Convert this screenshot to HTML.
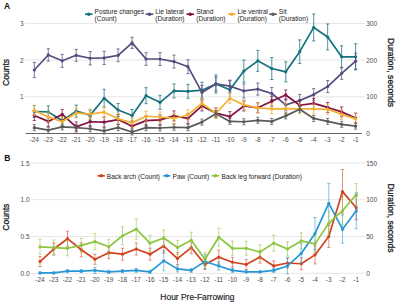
<!DOCTYPE html>
<html><head><meta charset="utf-8"><style>
html,body{margin:0;padding:0;background:#fff;}
body{width:400px;height:304px;overflow:hidden;}
svg{display:block;font-family:"Liberation Sans",sans-serif;}
</style></head><body>
<svg width="400" height="304" viewBox="0 0 400 304">
<rect width="400" height="304" fill="#fff"/>
<line x1="25" y1="96.80" x2="365" y2="96.80" stroke="#e3e3e3" stroke-width="0.9"/>
<line x1="25" y1="60.10" x2="365" y2="60.10" stroke="#e3e3e3" stroke-width="0.9"/>
<line x1="25" y1="23.40" x2="365" y2="23.40" stroke="#e3e3e3" stroke-width="0.9"/>
<line x1="25.5" y1="133.50" x2="362" y2="133.50" stroke="#555" stroke-width="0.9"/>
<line x1="31" y1="273.30" x2="365" y2="273.30" stroke="#e3e3e3" stroke-width="0.9"/>
<line x1="31" y1="236.50" x2="365" y2="236.50" stroke="#e3e3e3" stroke-width="0.9"/>
<line x1="31" y1="199.70" x2="365" y2="199.70" stroke="#e3e3e3" stroke-width="0.9"/>
<line x1="31" y1="162.90" x2="365" y2="162.90" stroke="#e3e3e3" stroke-width="0.9"/>
<path d="M34.30 105.48V117.48M32.70 105.48H35.90M32.70 117.48H35.90M48.27 105.85V117.85M46.67 105.85H49.87M46.67 117.85H49.87M62.24 115.66V125.66M60.64 115.66H63.84M60.64 125.66H63.84M76.21 105.11V117.11M74.61 105.11H77.81M74.61 117.11H77.81M90.18 110.15V120.15M88.58 110.15H91.78M88.58 120.15H91.78M104.15 89.27V107.27M102.55 89.27H105.75M102.55 107.27H105.75M118.12 103.51V116.51M116.52 103.51H119.72M116.52 116.51H119.72M132.09 109.52V121.52M130.49 109.52H133.69M130.49 121.52H133.69M146.06 87.70V103.70M144.46 87.70H147.66M144.46 103.70H147.66M160.03 95.31V109.31M158.43 95.31H161.63M158.43 109.31H161.63M174.00 83.93V97.93M172.40 83.93H175.60M172.40 97.93H175.60M187.97 84.30V98.30M186.37 84.30H189.57M186.37 98.30H189.57M201.94 82.19V98.19M200.34 82.19H203.54M200.34 98.19H203.54M215.91 74.95V92.95M214.31 74.95H217.51M214.31 92.95H217.51M229.88 80.83V98.83M228.28 80.83H231.48M228.28 98.83H231.48M243.85 60.11V82.11M242.25 60.11H245.45M242.25 82.11H245.45M257.82 50.33V71.33M256.22 50.33H259.42M256.22 71.33H259.42M271.79 57.54V79.54M270.19 57.54H273.39M270.19 79.54H273.39M285.76 61.84V81.84M284.16 61.84H287.36M284.16 81.84H287.36M299.73 39.86V63.46M298.13 39.86H301.33M298.13 63.46H301.33M313.70 13.94V40.94M312.10 13.94H315.30M312.10 40.94H315.30M327.67 23.98V49.98M326.07 23.98H329.27M326.07 49.98H329.27M341.64 45.80V67.80M340.04 45.80H343.24M340.04 67.80H343.24M355.61 43.80V69.80M354.01 43.80H357.21M354.01 69.80H357.21" stroke="#15727c" stroke-width="0.8" fill="none" opacity="0.95"/>
<path d="M34.30 111.48L48.27 111.85L62.24 120.66L76.21 111.11L90.18 115.15L104.15 98.27L118.12 110.01L132.09 115.52L146.06 95.70L160.03 102.31L174.00 90.93L187.97 91.30L201.94 90.19L215.91 83.95L229.88 89.83L243.85 71.11L257.82 60.83L271.79 68.54L285.76 71.84L299.73 51.66L313.70 27.44L327.67 36.98L341.64 56.80L355.61 56.80" stroke="#15727c" stroke-width="1.7" fill="none" stroke-linejoin="round"/>
<circle cx="34.30" cy="111.48" r="1.6" fill="#15727c"/><circle cx="48.27" cy="111.85" r="1.6" fill="#15727c"/><circle cx="62.24" cy="120.66" r="1.6" fill="#15727c"/><circle cx="76.21" cy="111.11" r="1.6" fill="#15727c"/><circle cx="90.18" cy="115.15" r="1.6" fill="#15727c"/><circle cx="104.15" cy="98.27" r="1.6" fill="#15727c"/><circle cx="118.12" cy="110.01" r="1.6" fill="#15727c"/><circle cx="132.09" cy="115.52" r="1.6" fill="#15727c"/><circle cx="146.06" cy="95.70" r="1.6" fill="#15727c"/><circle cx="160.03" cy="102.31" r="1.6" fill="#15727c"/><circle cx="174.00" cy="90.93" r="1.6" fill="#15727c"/><circle cx="187.97" cy="91.30" r="1.6" fill="#15727c"/><circle cx="201.94" cy="90.19" r="1.6" fill="#15727c"/><circle cx="215.91" cy="83.95" r="1.6" fill="#15727c"/><circle cx="229.88" cy="89.83" r="1.6" fill="#15727c"/><circle cx="243.85" cy="71.11" r="1.6" fill="#15727c"/><circle cx="257.82" cy="60.83" r="1.6" fill="#15727c"/><circle cx="271.79" cy="68.54" r="1.6" fill="#15727c"/><circle cx="285.76" cy="71.84" r="1.6" fill="#15727c"/><circle cx="299.73" cy="51.66" r="1.6" fill="#15727c"/><circle cx="313.70" cy="27.44" r="1.6" fill="#15727c"/><circle cx="327.67" cy="36.98" r="1.6" fill="#15727c"/><circle cx="341.64" cy="56.80" r="1.6" fill="#15727c"/><circle cx="355.61" cy="56.80" r="1.6" fill="#15727c"/>
<path d="M34.30 62.41V77.61M32.70 62.41H35.90M32.70 77.61H35.90M48.27 48.76V61.16M46.67 48.76H49.87M46.67 61.16H49.87M62.24 54.33V67.33M60.64 54.33H63.84M60.64 67.33H63.84M76.21 49.33V61.33M74.61 49.33H77.81M74.61 61.33H77.81M90.18 51.56V64.97M88.58 51.56H91.78M88.58 64.97H91.78M104.15 51.30V64.50M102.55 51.30H105.75M102.55 64.50H105.75M118.12 48.93V61.73M116.52 48.93H119.72M116.52 61.73H119.72M132.09 37.25V48.45M130.49 37.25H133.69M130.49 48.45H133.69M146.06 52.70V65.30M144.46 52.70H147.66M144.46 65.30H147.66M160.03 52.50V65.50M158.43 52.50H161.63M158.43 65.50H161.63M174.00 55.07V68.07M172.40 55.07H175.60M172.40 68.07H175.60M187.97 59.71V73.71M186.37 59.71H189.57M186.37 73.71H189.57M201.94 85.40V99.40M200.34 85.40H203.54M200.34 99.40H203.54M215.91 76.95V90.95M214.31 76.95H217.51M214.31 90.95H217.51M229.88 80.16V92.16M228.28 80.16H231.48M228.28 92.16H231.48M243.85 83.93V97.93M242.25 83.93H245.45M242.25 97.93H245.45M257.82 83.09V95.09M256.22 83.09H259.42M256.22 95.09H259.42M271.79 87.50V99.50M270.19 87.50H273.39M270.19 99.50H273.39M285.76 98.87V110.87M284.16 98.87H287.36M284.16 110.87H287.36M299.73 94.47V106.47M298.13 94.47H301.33M298.13 106.47H301.33M313.70 88.60V100.60M312.10 88.60H315.30M312.10 100.60H315.30M327.67 80.52V92.52M326.07 80.52H329.27M326.07 92.52H329.27M341.64 67.31V79.31M340.04 67.31H343.24M340.04 79.31H343.24M355.61 53.20V69.20M354.01 53.20H357.21M354.01 69.20H357.21" stroke="#554d7e" stroke-width="0.8" fill="none" opacity="0.95"/>
<path d="M34.30 70.01L48.27 54.96L62.24 60.83L76.21 55.33L90.18 58.27L104.15 57.90L118.12 55.33L132.09 42.85L146.06 59.00L160.03 59.00L174.00 61.57L187.97 66.71L201.94 92.40L215.91 83.95L229.88 86.16L243.85 90.93L257.82 89.09L271.79 93.50L285.76 104.87L299.73 100.47L313.70 94.60L327.67 86.52L341.64 73.31L355.61 61.20" stroke="#554d7e" stroke-width="1.7" fill="none" stroke-linejoin="round"/>
<circle cx="34.30" cy="70.01" r="1.6" fill="#554d7e"/><circle cx="48.27" cy="54.96" r="1.6" fill="#554d7e"/><circle cx="62.24" cy="60.83" r="1.6" fill="#554d7e"/><circle cx="76.21" cy="55.33" r="1.6" fill="#554d7e"/><circle cx="90.18" cy="58.27" r="1.6" fill="#554d7e"/><circle cx="104.15" cy="57.90" r="1.6" fill="#554d7e"/><circle cx="118.12" cy="55.33" r="1.6" fill="#554d7e"/><circle cx="132.09" cy="42.85" r="1.6" fill="#554d7e"/><circle cx="146.06" cy="59.00" r="1.6" fill="#554d7e"/><circle cx="160.03" cy="59.00" r="1.6" fill="#554d7e"/><circle cx="174.00" cy="61.57" r="1.6" fill="#554d7e"/><circle cx="187.97" cy="66.71" r="1.6" fill="#554d7e"/><circle cx="201.94" cy="92.40" r="1.6" fill="#554d7e"/><circle cx="215.91" cy="83.95" r="1.6" fill="#554d7e"/><circle cx="229.88" cy="86.16" r="1.6" fill="#554d7e"/><circle cx="243.85" cy="90.93" r="1.6" fill="#554d7e"/><circle cx="257.82" cy="89.09" r="1.6" fill="#554d7e"/><circle cx="271.79" cy="93.50" r="1.6" fill="#554d7e"/><circle cx="285.76" cy="104.87" r="1.6" fill="#554d7e"/><circle cx="299.73" cy="100.47" r="1.6" fill="#554d7e"/><circle cx="313.70" cy="94.60" r="1.6" fill="#554d7e"/><circle cx="327.67" cy="86.52" r="1.6" fill="#554d7e"/><circle cx="341.64" cy="73.31" r="1.6" fill="#554d7e"/><circle cx="355.61" cy="61.20" r="1.6" fill="#554d7e"/>
<path d="M34.30 110.52V120.52M32.70 110.52H35.90M32.70 120.52H35.90M48.27 116.39V126.39M46.67 116.39H49.87M46.67 126.39H49.87M62.24 109.42V119.42M60.64 109.42H63.84M60.64 119.42H63.84M76.21 121.89V131.89M74.61 121.89H77.81M74.61 131.89H77.81M90.18 116.76V126.76M88.58 116.76H91.78M88.58 126.76H91.78M104.15 117.12V127.12M102.55 117.12H105.75M102.55 127.12H105.75M118.12 114.55V124.55M116.52 114.55H119.72M116.52 124.55H119.72M132.09 121.16V131.16M130.49 121.16H133.69M130.49 131.16H133.69M146.06 115.66V125.66M144.46 115.66H147.66M144.46 125.66H147.66M160.03 114.92V124.92M158.43 114.92H161.63M158.43 124.92H161.63M174.00 110.88V120.88M172.40 110.88H175.60M172.40 120.88H175.60M187.97 113.45V123.45M186.37 113.45H189.57M186.37 123.45H189.57M201.94 100.97V110.97M200.34 100.97H203.54M200.34 110.97H203.54M215.91 107.95V117.95M214.31 107.95H217.51M214.31 117.95H217.51M229.88 111.62V121.62M228.28 111.62H231.48M228.28 121.62H231.48M243.85 100.97V110.97M242.25 100.97H245.45M242.25 110.97H245.45M257.82 102.81V112.81M256.22 102.81H259.42M256.22 112.81H259.42M271.79 96.20V106.20M270.19 96.20H273.39M270.19 106.20H273.39M285.76 89.97V99.97M284.16 89.97H287.36M284.16 99.97H287.36M299.73 100.24V110.24M298.13 100.24H301.33M298.13 110.24H301.33M313.70 98.41V108.41M312.10 98.41H315.30M312.10 108.41H315.30M327.67 102.44V112.44M326.07 102.44H329.27M326.07 112.44H329.27M341.64 106.85V116.85M340.04 106.85H343.24M340.04 116.85H343.24M355.61 113.09V123.09M354.01 113.09H357.21M354.01 123.09H357.21" stroke="#831042" stroke-width="0.8" fill="none" opacity="0.95"/>
<path d="M34.30 115.52L48.27 121.39L62.24 114.42L76.21 126.89L90.18 121.76L104.15 122.12L118.12 119.55L132.09 126.16L146.06 120.66L160.03 119.92L174.00 115.88L187.97 118.45L201.94 105.97L215.91 112.95L229.88 116.62L243.85 105.97L257.82 107.81L271.79 101.20L285.76 94.97L299.73 105.24L313.70 103.41L327.67 107.44L341.64 111.85L355.61 118.09" stroke="#831042" stroke-width="1.7" fill="none" stroke-linejoin="round"/>
<circle cx="34.30" cy="115.52" r="1.6" fill="#831042"/><circle cx="48.27" cy="121.39" r="1.6" fill="#831042"/><circle cx="62.24" cy="114.42" r="1.6" fill="#831042"/><circle cx="76.21" cy="126.89" r="1.6" fill="#831042"/><circle cx="90.18" cy="121.76" r="1.6" fill="#831042"/><circle cx="104.15" cy="122.12" r="1.6" fill="#831042"/><circle cx="118.12" cy="119.55" r="1.6" fill="#831042"/><circle cx="132.09" cy="126.16" r="1.6" fill="#831042"/><circle cx="146.06" cy="120.66" r="1.6" fill="#831042"/><circle cx="160.03" cy="119.92" r="1.6" fill="#831042"/><circle cx="174.00" cy="115.88" r="1.6" fill="#831042"/><circle cx="187.97" cy="118.45" r="1.6" fill="#831042"/><circle cx="201.94" cy="105.97" r="1.6" fill="#831042"/><circle cx="215.91" cy="112.95" r="1.6" fill="#831042"/><circle cx="229.88" cy="116.62" r="1.6" fill="#831042"/><circle cx="243.85" cy="105.97" r="1.6" fill="#831042"/><circle cx="257.82" cy="107.81" r="1.6" fill="#831042"/><circle cx="271.79" cy="101.20" r="1.6" fill="#831042"/><circle cx="285.76" cy="94.97" r="1.6" fill="#831042"/><circle cx="299.73" cy="105.24" r="1.6" fill="#831042"/><circle cx="313.70" cy="103.41" r="1.6" fill="#831042"/><circle cx="327.67" cy="107.44" r="1.6" fill="#831042"/><circle cx="341.64" cy="111.85" r="1.6" fill="#831042"/><circle cx="355.61" cy="118.09" r="1.6" fill="#831042"/>
<path d="M34.30 105.38V115.38M32.70 105.38H35.90M32.70 115.38H35.90M48.27 111.98V121.98M46.67 111.98H49.87M46.67 121.98H49.87M62.24 116.76V126.76M60.64 116.76H63.84M60.64 126.76H63.84M76.21 107.95V117.95M74.61 107.95H77.81M74.61 117.95H77.81M90.18 109.05V119.05M88.58 109.05H91.78M88.58 119.05H91.78M104.15 107.21V117.21M102.55 107.21H105.75M102.55 117.21H105.75M118.12 113.82V123.82M116.52 113.82H119.72M116.52 123.82H119.72M132.09 117.86V127.86M130.49 117.86H133.69M130.49 127.86H133.69M146.06 111.25V121.25M144.46 111.25H147.66M144.46 121.25H147.66M160.03 111.98V121.98M158.43 111.98H161.63M158.43 121.98H161.63M174.00 113.45V123.45M172.40 113.45H175.60M172.40 123.45H175.60M187.97 109.78V119.78M186.37 109.78H189.57M186.37 119.78H189.57M201.94 98.41V108.41M200.34 98.41H203.54M200.34 108.41H203.54M215.91 108.31V118.31M214.31 108.31H217.51M214.31 118.31H217.51M229.88 93.27V103.27M228.28 93.27H231.48M228.28 103.27H231.48M243.85 99.87V109.87M242.25 99.87H245.45M242.25 109.87H245.45M257.82 102.81V112.81M256.22 102.81H259.42M256.22 112.81H259.42M271.79 103.91V113.91M270.19 103.91H273.39M270.19 113.91H273.39M285.76 103.54V113.54M284.16 103.54H287.36M284.16 113.54H287.36M299.73 103.91V113.91M298.13 103.91H301.33M298.13 113.91H301.33M313.70 103.91V113.91M312.10 103.91H315.30M312.10 113.91H315.30M327.67 104.28V114.28M326.07 104.28H329.27M326.07 114.28H329.27M341.64 109.42V119.42M340.04 109.42H343.24M340.04 119.42H343.24M355.61 113.82V123.82M354.01 113.82H357.21M354.01 123.82H357.21" stroke="#f1b133" stroke-width="0.8" fill="none" opacity="0.95"/>
<path d="M34.30 110.38L48.27 116.98L62.24 121.76L76.21 112.95L90.18 114.05L104.15 112.21L118.12 118.82L132.09 122.86L146.06 116.25L160.03 116.98L174.00 118.45L187.97 114.78L201.94 103.41L215.91 113.31L229.88 98.27L243.85 104.87L257.82 107.81L271.79 108.91L285.76 108.54L299.73 108.91L313.70 108.91L327.67 109.28L341.64 114.42L355.61 118.82" stroke="#f1b133" stroke-width="1.7" fill="none" stroke-linejoin="round"/>
<circle cx="34.30" cy="110.38" r="1.6" fill="#f1b133"/><circle cx="48.27" cy="116.98" r="1.6" fill="#f1b133"/><circle cx="62.24" cy="121.76" r="1.6" fill="#f1b133"/><circle cx="76.21" cy="112.95" r="1.6" fill="#f1b133"/><circle cx="90.18" cy="114.05" r="1.6" fill="#f1b133"/><circle cx="104.15" cy="112.21" r="1.6" fill="#f1b133"/><circle cx="118.12" cy="118.82" r="1.6" fill="#f1b133"/><circle cx="132.09" cy="122.86" r="1.6" fill="#f1b133"/><circle cx="146.06" cy="116.25" r="1.6" fill="#f1b133"/><circle cx="160.03" cy="116.98" r="1.6" fill="#f1b133"/><circle cx="174.00" cy="118.45" r="1.6" fill="#f1b133"/><circle cx="187.97" cy="114.78" r="1.6" fill="#f1b133"/><circle cx="201.94" cy="103.41" r="1.6" fill="#f1b133"/><circle cx="215.91" cy="113.31" r="1.6" fill="#f1b133"/><circle cx="229.88" cy="98.27" r="1.6" fill="#f1b133"/><circle cx="243.85" cy="104.87" r="1.6" fill="#f1b133"/><circle cx="257.82" cy="107.81" r="1.6" fill="#f1b133"/><circle cx="271.79" cy="108.91" r="1.6" fill="#f1b133"/><circle cx="285.76" cy="108.54" r="1.6" fill="#f1b133"/><circle cx="299.73" cy="108.91" r="1.6" fill="#f1b133"/><circle cx="313.70" cy="108.91" r="1.6" fill="#f1b133"/><circle cx="327.67" cy="109.28" r="1.6" fill="#f1b133"/><circle cx="341.64" cy="114.42" r="1.6" fill="#f1b133"/><circle cx="355.61" cy="118.82" r="1.6" fill="#f1b133"/>
<path d="M34.30 124.63V130.63M32.70 124.63H35.90M32.70 130.63H35.90M48.27 127.20V133.20M46.67 127.20H49.87M46.67 133.20H49.87M62.24 123.89V129.89M60.64 123.89H63.84M60.64 129.89H63.84M76.21 124.63V130.63M74.61 124.63H77.81M74.61 130.63H77.81M90.18 125.73V131.73M88.58 125.73H91.78M88.58 131.73H91.78M104.15 127.93V133.93M102.55 127.93H105.75M102.55 133.93H105.75M118.12 124.63V130.63M116.52 124.63H119.72M116.52 130.63H119.72M132.09 129.03V135.03M130.49 129.03H133.69M130.49 135.03H133.69M146.06 124.63V130.63M144.46 124.63H147.66M144.46 130.63H147.66M160.03 125.00V131.00M158.43 125.00H161.63M158.43 131.00H161.63M174.00 124.26V130.26M172.40 124.26H175.60M172.40 130.26H175.60M187.97 124.63V130.63M186.37 124.63H189.57M186.37 130.63H189.57M201.94 119.12V125.12M200.34 119.12H203.54M200.34 125.12H203.54M215.91 110.68V116.68M214.31 110.68H217.51M214.31 116.68H217.51M229.88 118.39V124.39M228.28 118.39H231.48M228.28 124.39H231.48M243.85 118.76V124.76M242.25 118.76H245.45M242.25 124.76H245.45M257.82 117.29V123.29M256.22 117.29H259.42M256.22 123.29H259.42M271.79 118.39V124.39M270.19 118.39H273.39M270.19 124.39H273.39M285.76 112.88V118.88M284.16 112.88H287.36M284.16 118.88H287.36M299.73 106.28V112.28M298.13 106.28H301.33M298.13 112.28H301.33M313.70 115.45V121.45M312.10 115.45H315.30M312.10 121.45H315.30M327.67 118.39V124.39M326.07 118.39H329.27M326.07 124.39H329.27M341.64 121.33V127.33M340.04 121.33H343.24M340.04 127.33H343.24M355.61 123.16V129.16M354.01 123.16H357.21M354.01 129.16H357.21" stroke="#595959" stroke-width="0.8" fill="none" opacity="0.95"/>
<path d="M34.30 127.63L48.27 130.20L62.24 126.89L76.21 127.63L90.18 128.73L104.15 130.93L118.12 127.63L132.09 132.03L146.06 127.63L160.03 128.00L174.00 127.26L187.97 127.63L201.94 122.12L215.91 113.68L229.88 121.39L243.85 121.76L257.82 120.29L271.79 121.39L285.76 115.88L299.73 109.28L313.70 118.45L327.67 121.39L341.64 124.33L355.61 126.16" stroke="#595959" stroke-width="1.7" fill="none" stroke-linejoin="round"/>
<circle cx="34.30" cy="127.63" r="1.6" fill="#595959"/><circle cx="48.27" cy="130.20" r="1.6" fill="#595959"/><circle cx="62.24" cy="126.89" r="1.6" fill="#595959"/><circle cx="76.21" cy="127.63" r="1.6" fill="#595959"/><circle cx="90.18" cy="128.73" r="1.6" fill="#595959"/><circle cx="104.15" cy="130.93" r="1.6" fill="#595959"/><circle cx="118.12" cy="127.63" r="1.6" fill="#595959"/><circle cx="132.09" cy="132.03" r="1.6" fill="#595959"/><circle cx="146.06" cy="127.63" r="1.6" fill="#595959"/><circle cx="160.03" cy="128.00" r="1.6" fill="#595959"/><circle cx="174.00" cy="127.26" r="1.6" fill="#595959"/><circle cx="187.97" cy="127.63" r="1.6" fill="#595959"/><circle cx="201.94" cy="122.12" r="1.6" fill="#595959"/><circle cx="215.91" cy="113.68" r="1.6" fill="#595959"/><circle cx="229.88" cy="121.39" r="1.6" fill="#595959"/><circle cx="243.85" cy="121.76" r="1.6" fill="#595959"/><circle cx="257.82" cy="120.29" r="1.6" fill="#595959"/><circle cx="271.79" cy="121.39" r="1.6" fill="#595959"/><circle cx="285.76" cy="115.88" r="1.6" fill="#595959"/><circle cx="299.73" cy="109.28" r="1.6" fill="#595959"/><circle cx="313.70" cy="118.45" r="1.6" fill="#595959"/><circle cx="327.67" cy="121.39" r="1.6" fill="#595959"/><circle cx="341.64" cy="124.33" r="1.6" fill="#595959"/><circle cx="355.61" cy="126.16" r="1.6" fill="#595959"/>
<path d="M40.00 256.52V266.52M38.40 256.52H41.60M38.40 266.52H41.60M53.75 243.01V255.01M52.15 243.01H55.35M52.15 255.01H55.35M67.50 231.21V246.21M65.90 231.21H69.10M65.90 246.21H69.10M81.25 242.75V256.75M79.65 242.75H82.85M79.65 256.75H82.85M95.00 254.32V264.32M93.40 254.32H96.60M93.40 264.32H96.60M108.75 246.69V258.69M107.15 246.69H110.35M107.15 258.69H110.35M122.50 248.16V260.16M120.90 248.16H124.10M120.90 260.16H124.10M136.25 243.01V255.01M134.65 243.01H137.85M134.65 255.01H137.85M150.00 248.16V260.16M148.40 248.16H151.60M148.40 260.16H151.60M163.75 239.07V253.07M162.15 239.07H165.35M162.15 253.07H165.35M177.50 252.58V264.58M175.90 252.58H179.10M175.90 264.58H179.10M191.25 241.54V253.54M189.65 241.54H192.85M189.65 253.54H192.85M205.00 259.47V269.47M203.40 259.47H206.60M203.40 269.47H206.60M218.75 250.11V264.11M217.15 250.11H220.35M217.15 264.11H220.35M232.50 257.26V267.26M230.90 257.26H234.10M230.90 267.26H234.10M246.25 259.47V269.47M244.65 259.47H247.85M244.65 269.47H247.85M260.00 251.11V263.11M258.40 251.11H261.60M258.40 263.11H261.60M273.75 260.94V270.94M272.15 260.94H275.35M272.15 270.94H275.35M287.50 258.00V268.00M285.90 258.00H289.10M285.90 268.00H289.10M301.25 257.73V269.73M299.65 257.73H302.85M299.65 269.73H302.85M315.00 245.90V263.90M313.40 245.90H316.60M313.40 263.90H316.60M328.75 225.50V247.50M327.15 225.50H330.35M327.15 247.50H330.35M342.50 169.60V213.60M340.90 169.60H344.10M340.90 213.60H344.10M356.25 195.80V219.80M354.65 195.80H357.85M354.65 219.80H357.85" stroke="#d3411f" stroke-width="0.8" fill="none" opacity="0.7"/>
<path d="M40.00 261.52L53.75 249.01L67.50 238.71L81.25 249.75L95.00 259.32L108.75 252.69L122.50 254.16L136.25 249.01L150.00 254.16L163.75 246.07L177.50 258.58L191.25 247.54L205.00 264.47L218.75 257.11L232.50 262.26L246.25 264.47L260.00 257.11L273.75 265.94L287.50 263.00L301.25 263.73L315.00 254.90L328.75 236.50L342.50 191.60L356.25 207.80" stroke="#d3411f" stroke-width="1.7" fill="none" stroke-linejoin="round"/>
<circle cx="40.00" cy="261.52" r="1.6" fill="#d3411f"/><circle cx="53.75" cy="249.01" r="1.6" fill="#d3411f"/><circle cx="67.50" cy="238.71" r="1.6" fill="#d3411f"/><circle cx="81.25" cy="249.75" r="1.6" fill="#d3411f"/><circle cx="95.00" cy="259.32" r="1.6" fill="#d3411f"/><circle cx="108.75" cy="252.69" r="1.6" fill="#d3411f"/><circle cx="122.50" cy="254.16" r="1.6" fill="#d3411f"/><circle cx="136.25" cy="249.01" r="1.6" fill="#d3411f"/><circle cx="150.00" cy="254.16" r="1.6" fill="#d3411f"/><circle cx="163.75" cy="246.07" r="1.6" fill="#d3411f"/><circle cx="177.50" cy="258.58" r="1.6" fill="#d3411f"/><circle cx="191.25" cy="247.54" r="1.6" fill="#d3411f"/><circle cx="205.00" cy="264.47" r="1.6" fill="#d3411f"/><circle cx="218.75" cy="257.11" r="1.6" fill="#d3411f"/><circle cx="232.50" cy="262.26" r="1.6" fill="#d3411f"/><circle cx="246.25" cy="264.47" r="1.6" fill="#d3411f"/><circle cx="260.00" cy="257.11" r="1.6" fill="#d3411f"/><circle cx="273.75" cy="265.94" r="1.6" fill="#d3411f"/><circle cx="287.50" cy="263.00" r="1.6" fill="#d3411f"/><circle cx="301.25" cy="263.73" r="1.6" fill="#d3411f"/><circle cx="315.00" cy="254.90" r="1.6" fill="#d3411f"/><circle cx="328.75" cy="236.50" r="1.6" fill="#d3411f"/><circle cx="342.50" cy="191.60" r="1.6" fill="#d3411f"/><circle cx="356.25" cy="207.80" r="1.6" fill="#d3411f"/>
<path d="M40.00 271.93V273.93M38.40 271.93H41.60M38.40 273.93H41.60M53.75 271.93V273.93M52.15 271.93H55.35M52.15 273.93H55.35M67.50 269.59V272.59M65.90 269.59H69.10M65.90 272.59H69.10M81.25 269.59V272.59M79.65 269.59H82.85M79.65 272.59H82.85M95.00 267.36V273.36M93.40 267.36H96.60M93.40 273.36H96.60M108.75 270.33V273.33M107.15 270.33H110.35M107.15 273.33H110.35M122.50 269.59V272.59M120.90 269.59H124.10M120.90 272.59H124.10M136.25 268.36V272.36M134.65 268.36H137.85M134.65 272.36H137.85M150.00 270.33V273.33M148.40 270.33H151.60M148.40 273.33H151.60M163.75 250.79V270.79M162.15 250.79H165.35M162.15 270.79H165.35M177.50 265.88V271.88M175.90 265.88H179.10M175.90 271.88H179.10M191.25 268.36V272.36M189.65 268.36H192.85M189.65 272.36H192.85M205.00 254.52V268.52M203.40 254.52H206.60M203.40 268.52H206.60M218.75 261.94V269.94M217.15 261.94H220.35M217.15 269.94H220.35M232.50 268.36V272.36M230.90 268.36H234.10M230.90 272.36H234.10M246.25 270.83V272.83M244.65 270.83H247.85M244.65 272.83H247.85M260.00 270.83V272.83M258.40 270.83H261.60M258.40 272.83H261.60M273.75 268.36V272.36M272.15 268.36H275.35M272.15 272.36H275.35M287.50 257.94V273.94M285.90 257.94H289.10M285.90 273.94H289.10M301.25 243.43V263.43M299.65 243.43H302.85M299.65 263.43H302.85M315.00 217.56V249.56M313.40 217.56H316.60M313.40 249.56H316.60M328.75 183.38V223.38M327.15 183.38H330.35M327.15 223.38H330.35M342.50 215.14V243.14M340.90 215.14H344.10M340.90 243.14H344.10M356.25 192.74V228.74M354.65 192.74H357.85M354.65 228.74H357.85" stroke="#2997d6" stroke-width="0.8" fill="none" opacity="0.7"/>
<path d="M40.00 272.93L53.75 272.93L67.50 271.09L81.25 271.09L95.00 270.36L108.75 271.83L122.50 271.09L136.25 270.36L150.00 271.83L163.75 260.79L177.50 268.88L191.25 270.36L205.00 261.52L218.75 265.94L232.50 270.36L246.25 271.83L260.00 271.83L273.75 270.36L287.50 265.94L301.25 253.43L315.00 233.56L328.75 203.38L342.50 229.14L356.25 210.74" stroke="#2997d6" stroke-width="1.7" fill="none" stroke-linejoin="round"/>
<circle cx="40.00" cy="272.93" r="1.6" fill="#2997d6"/><circle cx="53.75" cy="272.93" r="1.6" fill="#2997d6"/><circle cx="67.50" cy="271.09" r="1.6" fill="#2997d6"/><circle cx="81.25" cy="271.09" r="1.6" fill="#2997d6"/><circle cx="95.00" cy="270.36" r="1.6" fill="#2997d6"/><circle cx="108.75" cy="271.83" r="1.6" fill="#2997d6"/><circle cx="122.50" cy="271.09" r="1.6" fill="#2997d6"/><circle cx="136.25" cy="270.36" r="1.6" fill="#2997d6"/><circle cx="150.00" cy="271.83" r="1.6" fill="#2997d6"/><circle cx="163.75" cy="260.79" r="1.6" fill="#2997d6"/><circle cx="177.50" cy="268.88" r="1.6" fill="#2997d6"/><circle cx="191.25" cy="270.36" r="1.6" fill="#2997d6"/><circle cx="205.00" cy="261.52" r="1.6" fill="#2997d6"/><circle cx="218.75" cy="265.94" r="1.6" fill="#2997d6"/><circle cx="232.50" cy="270.36" r="1.6" fill="#2997d6"/><circle cx="246.25" cy="271.83" r="1.6" fill="#2997d6"/><circle cx="260.00" cy="271.83" r="1.6" fill="#2997d6"/><circle cx="273.75" cy="270.36" r="1.6" fill="#2997d6"/><circle cx="287.50" cy="265.94" r="1.6" fill="#2997d6"/><circle cx="301.25" cy="253.43" r="1.6" fill="#2997d6"/><circle cx="315.00" cy="233.56" r="1.6" fill="#2997d6"/><circle cx="328.75" cy="203.38" r="1.6" fill="#2997d6"/><circle cx="342.50" cy="229.14" r="1.6" fill="#2997d6"/><circle cx="356.25" cy="210.74" r="1.6" fill="#2997d6"/>
<path d="M40.00 239.30V254.30M38.40 239.30H41.60M38.40 254.30H41.60M53.75 240.04V255.04M52.15 240.04H55.35M52.15 255.04H55.35M67.50 240.78V255.78M65.90 240.78H69.10M65.90 255.78H69.10M81.25 238.33V252.33M79.65 238.33H82.85M79.65 252.33H82.85M95.00 233.65V249.65M93.40 233.65H96.60M93.40 249.65H96.60M108.75 239.30V254.30M107.15 239.30H110.35M107.15 254.30H110.35M122.50 226.76V244.76M120.90 226.76H124.10M120.90 244.76H124.10M136.25 219.14V239.14M134.65 219.14H137.85M134.65 239.14H137.85M150.00 235.12V251.12M148.40 235.12H151.60M148.40 251.12H151.60M163.75 229.97V245.97M162.15 229.97H165.35M162.15 245.97H165.35M177.50 240.54V254.54M175.90 240.54H179.10M175.90 254.54H179.10M191.25 232.18V248.18M189.65 232.18H192.85M189.65 248.18H192.85M205.00 252.32V266.32M203.40 252.32H206.60M203.40 266.32H206.60M218.75 228.24V246.24M217.15 228.24H220.35M217.15 246.24H220.35M232.50 241.28V255.28M230.90 241.28H234.10M230.90 255.28H234.10M246.25 241.28V255.28M244.65 241.28H247.85M244.65 255.28H247.85M260.00 244.96V258.96M258.40 244.96H261.60M258.40 258.96H261.60M273.75 235.12V251.12M272.15 235.12H275.35M272.15 251.12H275.35M287.50 242.01V256.01M285.90 242.01H289.10M285.90 256.01H289.10M301.25 232.92V248.92M299.65 232.92H302.85M299.65 248.92H302.85M315.00 235.86V251.86M313.40 235.86H316.60M313.40 251.86H316.60M328.75 211.25V235.25M327.15 211.25H330.35M327.15 235.25H330.35M342.50 196.74V224.74M340.90 196.74H344.10M340.90 224.74H344.10M356.25 183.55V205.55M354.65 183.55H357.85M354.65 205.55H357.85" stroke="#8dc540" stroke-width="0.8" fill="none" opacity="0.7"/>
<path d="M40.00 246.80L53.75 247.54L67.50 248.28L81.25 245.33L95.00 241.65L108.75 246.80L122.50 235.76L136.25 229.14L150.00 243.12L163.75 237.97L177.50 247.54L191.25 240.18L205.00 259.32L218.75 237.24L232.50 248.28L246.25 248.28L260.00 251.96L273.75 243.12L287.50 249.01L301.25 240.92L315.00 243.86L328.75 223.25L342.50 210.74L356.25 194.55" stroke="#8dc540" stroke-width="1.7" fill="none" stroke-linejoin="round"/>
<circle cx="40.00" cy="246.80" r="1.6" fill="#8dc540"/><circle cx="53.75" cy="247.54" r="1.6" fill="#8dc540"/><circle cx="67.50" cy="248.28" r="1.6" fill="#8dc540"/><circle cx="81.25" cy="245.33" r="1.6" fill="#8dc540"/><circle cx="95.00" cy="241.65" r="1.6" fill="#8dc540"/><circle cx="108.75" cy="246.80" r="1.6" fill="#8dc540"/><circle cx="122.50" cy="235.76" r="1.6" fill="#8dc540"/><circle cx="136.25" cy="229.14" r="1.6" fill="#8dc540"/><circle cx="150.00" cy="243.12" r="1.6" fill="#8dc540"/><circle cx="163.75" cy="237.97" r="1.6" fill="#8dc540"/><circle cx="177.50" cy="247.54" r="1.6" fill="#8dc540"/><circle cx="191.25" cy="240.18" r="1.6" fill="#8dc540"/><circle cx="205.00" cy="259.32" r="1.6" fill="#8dc540"/><circle cx="218.75" cy="237.24" r="1.6" fill="#8dc540"/><circle cx="232.50" cy="248.28" r="1.6" fill="#8dc540"/><circle cx="246.25" cy="248.28" r="1.6" fill="#8dc540"/><circle cx="260.00" cy="251.96" r="1.6" fill="#8dc540"/><circle cx="273.75" cy="243.12" r="1.6" fill="#8dc540"/><circle cx="287.50" cy="249.01" r="1.6" fill="#8dc540"/><circle cx="301.25" cy="240.92" r="1.6" fill="#8dc540"/><circle cx="315.00" cy="243.86" r="1.6" fill="#8dc540"/><circle cx="328.75" cy="223.25" r="1.6" fill="#8dc540"/><circle cx="342.50" cy="210.74" r="1.6" fill="#8dc540"/><circle cx="356.25" cy="194.55" r="1.6" fill="#8dc540"/>
<text x="23.6" y="99.40" text-anchor="end" font-size="6.5" fill="#4d4d4d">1</text>
<text x="23.6" y="62.70" text-anchor="end" font-size="6.5" fill="#4d4d4d">2</text>
<text x="23.6" y="26.00" text-anchor="end" font-size="6.5" fill="#4d4d4d">3</text>
<text x="366.2" y="136.10" font-size="6.5" fill="#4d4d4d">0</text>
<text x="366.2" y="99.40" font-size="6.5" fill="#4d4d4d">100</text>
<text x="366.2" y="62.70" font-size="6.5" fill="#4d4d4d">200</text>
<text x="366.2" y="26.00" font-size="6.5" fill="#4d4d4d">300</text>
<text x="29.6" y="275.90" text-anchor="end" font-size="6.5" fill="#4d4d4d">0.0</text>
<text x="29.6" y="239.10" text-anchor="end" font-size="6.5" fill="#4d4d4d">0.5</text>
<text x="29.6" y="202.30" text-anchor="end" font-size="6.5" fill="#4d4d4d">1.0</text>
<text x="29.6" y="165.50" text-anchor="end" font-size="6.5" fill="#4d4d4d">1.5</text>
<text x="366.2" y="275.90" font-size="6.5" fill="#4d4d4d">0</text>
<text x="366.2" y="239.10" font-size="6.5" fill="#4d4d4d">50</text>
<text x="366.2" y="202.30" font-size="6.5" fill="#4d4d4d">100</text>
<text x="366.2" y="165.50" font-size="6.5" fill="#4d4d4d">150</text>
<text x="34.30" y="141.8" text-anchor="middle" font-size="6.5" fill="#4d4d4d">-24</text>
<text x="40.00" y="281.8" text-anchor="middle" font-size="6.5" fill="#4d4d4d">-24</text>
<text x="48.27" y="141.8" text-anchor="middle" font-size="6.5" fill="#4d4d4d">-23</text>
<text x="53.75" y="281.8" text-anchor="middle" font-size="6.5" fill="#4d4d4d">-23</text>
<text x="62.24" y="141.8" text-anchor="middle" font-size="6.5" fill="#4d4d4d">-22</text>
<text x="67.50" y="281.8" text-anchor="middle" font-size="6.5" fill="#4d4d4d">-22</text>
<text x="76.21" y="141.8" text-anchor="middle" font-size="6.5" fill="#4d4d4d">-21</text>
<text x="81.25" y="281.8" text-anchor="middle" font-size="6.5" fill="#4d4d4d">-21</text>
<text x="90.18" y="141.8" text-anchor="middle" font-size="6.5" fill="#4d4d4d">-20</text>
<text x="95.00" y="281.8" text-anchor="middle" font-size="6.5" fill="#4d4d4d">-20</text>
<text x="104.15" y="141.8" text-anchor="middle" font-size="6.5" fill="#4d4d4d">-19</text>
<text x="108.75" y="281.8" text-anchor="middle" font-size="6.5" fill="#4d4d4d">-19</text>
<text x="118.12" y="141.8" text-anchor="middle" font-size="6.5" fill="#4d4d4d">-18</text>
<text x="122.50" y="281.8" text-anchor="middle" font-size="6.5" fill="#4d4d4d">-18</text>
<text x="132.09" y="141.8" text-anchor="middle" font-size="6.5" fill="#4d4d4d">-17</text>
<text x="136.25" y="281.8" text-anchor="middle" font-size="6.5" fill="#4d4d4d">-17</text>
<text x="146.06" y="141.8" text-anchor="middle" font-size="6.5" fill="#4d4d4d">-16</text>
<text x="150.00" y="281.8" text-anchor="middle" font-size="6.5" fill="#4d4d4d">-16</text>
<text x="160.03" y="141.8" text-anchor="middle" font-size="6.5" fill="#4d4d4d">-15</text>
<text x="163.75" y="281.8" text-anchor="middle" font-size="6.5" fill="#4d4d4d">-15</text>
<text x="174.00" y="141.8" text-anchor="middle" font-size="6.5" fill="#4d4d4d">-14</text>
<text x="177.50" y="281.8" text-anchor="middle" font-size="6.5" fill="#4d4d4d">-14</text>
<text x="187.97" y="141.8" text-anchor="middle" font-size="6.5" fill="#4d4d4d">-13</text>
<text x="191.25" y="281.8" text-anchor="middle" font-size="6.5" fill="#4d4d4d">-13</text>
<text x="201.94" y="141.8" text-anchor="middle" font-size="6.5" fill="#4d4d4d">-12</text>
<text x="205.00" y="281.8" text-anchor="middle" font-size="6.5" fill="#4d4d4d">-12</text>
<text x="215.91" y="141.8" text-anchor="middle" font-size="6.5" fill="#4d4d4d">-11</text>
<text x="218.75" y="281.8" text-anchor="middle" font-size="6.5" fill="#4d4d4d">-11</text>
<text x="229.88" y="141.8" text-anchor="middle" font-size="6.5" fill="#4d4d4d">-10</text>
<text x="232.50" y="281.8" text-anchor="middle" font-size="6.5" fill="#4d4d4d">-10</text>
<text x="243.85" y="141.8" text-anchor="middle" font-size="6.5" fill="#4d4d4d">-9</text>
<text x="246.25" y="281.8" text-anchor="middle" font-size="6.5" fill="#4d4d4d">-9</text>
<text x="257.82" y="141.8" text-anchor="middle" font-size="6.5" fill="#4d4d4d">-8</text>
<text x="260.00" y="281.8" text-anchor="middle" font-size="6.5" fill="#4d4d4d">-8</text>
<text x="271.79" y="141.8" text-anchor="middle" font-size="6.5" fill="#4d4d4d">-7</text>
<text x="273.75" y="281.8" text-anchor="middle" font-size="6.5" fill="#4d4d4d">-7</text>
<text x="285.76" y="141.8" text-anchor="middle" font-size="6.5" fill="#4d4d4d">-6</text>
<text x="287.50" y="281.8" text-anchor="middle" font-size="6.5" fill="#4d4d4d">-6</text>
<text x="299.73" y="141.8" text-anchor="middle" font-size="6.5" fill="#4d4d4d">-5</text>
<text x="301.25" y="281.8" text-anchor="middle" font-size="6.5" fill="#4d4d4d">-5</text>
<text x="313.70" y="141.8" text-anchor="middle" font-size="6.5" fill="#4d4d4d">-4</text>
<text x="315.00" y="281.8" text-anchor="middle" font-size="6.5" fill="#4d4d4d">-4</text>
<text x="327.67" y="141.8" text-anchor="middle" font-size="6.5" fill="#4d4d4d">-3</text>
<text x="328.75" y="281.8" text-anchor="middle" font-size="6.5" fill="#4d4d4d">-3</text>
<text x="341.64" y="141.8" text-anchor="middle" font-size="6.5" fill="#4d4d4d">-2</text>
<text x="342.50" y="281.8" text-anchor="middle" font-size="6.5" fill="#4d4d4d">-2</text>
<text x="355.61" y="141.8" text-anchor="middle" font-size="6.5" fill="#4d4d4d">-1</text>
<text x="356.25" y="281.8" text-anchor="middle" font-size="6.5" fill="#4d4d4d">-1</text>
<text x="4" y="9.2" font-size="8.5" font-weight="bold" fill="#111">A</text>
<text x="4.2" y="161.0" font-size="8.5" font-weight="bold" fill="#111">B</text>
<text transform="translate(8.6 72.5) rotate(-90)" text-anchor="middle" font-size="8.55" fill="#1a1a1a" stroke="#1a1a1a" stroke-width="0.28">Counts</text>
<text transform="translate(8.6 217.2) rotate(-90)" text-anchor="middle" font-size="8.55" fill="#1a1a1a" stroke="#1a1a1a" stroke-width="0.28">Counts</text>
<text transform="translate(388.2 72.5) rotate(90)" text-anchor="middle" font-size="8.55" fill="#1a1a1a" stroke="#1a1a1a" stroke-width="0.28">Duration, seconds</text>
<text transform="translate(388.2 218) rotate(90)" text-anchor="middle" font-size="8.55" fill="#1a1a1a" stroke="#1a1a1a" stroke-width="0.28">Duration, seconds</text>
<text x="197.4" y="299.8" text-anchor="middle" font-size="8.45" fill="#1a1a1a" stroke="#1a1a1a" stroke-width="0.15">Hour Pre-Farrowing</text>
<line x1="85.0" y1="14.2" x2="92.5" y2="14.2" stroke="#15727c" stroke-width="1.7"/><circle cx="88.75" cy="14.2" r="1.75" fill="#15727c"/>
<text x="94.6" y="14.0" font-size="6.6" fill="#1a1a1a">Posture changes</text>
<text x="94.6" y="21.3" font-size="6.6" fill="#1a1a1a">(Count)</text>
<line x1="145.8" y1="14.2" x2="153.3" y2="14.2" stroke="#554d7e" stroke-width="1.7"/><circle cx="149.55" cy="14.2" r="1.75" fill="#554d7e"/>
<text x="155.2" y="14.0" font-size="6.6" fill="#1a1a1a">Lie lateral</text>
<text x="155.2" y="21.3" font-size="6.6" fill="#1a1a1a">(Duration)</text>
<line x1="186.5" y1="14.2" x2="194.0" y2="14.2" stroke="#831042" stroke-width="1.7"/><circle cx="190.25" cy="14.2" r="1.75" fill="#831042"/>
<text x="196.2" y="14.0" font-size="6.6" fill="#1a1a1a">Stand</text>
<text x="196.2" y="21.3" font-size="6.6" fill="#1a1a1a">(Duration)</text>
<line x1="228.0" y1="14.2" x2="235.5" y2="14.2" stroke="#f1b133" stroke-width="1.7"/><circle cx="231.75" cy="14.2" r="1.75" fill="#f1b133"/>
<text x="237.6" y="14.0" font-size="6.6" fill="#1a1a1a">Lie ventral</text>
<text x="237.6" y="21.3" font-size="6.6" fill="#1a1a1a">(Duration)</text>
<line x1="269.3" y1="14.2" x2="276.8" y2="14.2" stroke="#595959" stroke-width="1.7"/><circle cx="273.05" cy="14.2" r="1.75" fill="#595959"/>
<text x="278.8" y="14.0" font-size="6.6" fill="#1a1a1a">Sit</text>
<text x="278.8" y="21.3" font-size="6.6" fill="#1a1a1a">(Duration)</text>
<line x1="97.5" y1="175.8" x2="104.8" y2="175.8" stroke="#d3411f" stroke-width="1.7"/><circle cx="101.15" cy="175.8" r="1.75" fill="#d3411f"/>
<text x="106.8" y="178.9" font-size="6.6" fill="#1a1a1a">Back arch (Count)</text>
<line x1="163.2" y1="175.8" x2="170.4" y2="175.8" stroke="#2997d6" stroke-width="1.7"/><circle cx="166.8" cy="175.8" r="1.75" fill="#2997d6"/>
<text x="172.5" y="178.9" font-size="6.6" fill="#1a1a1a">Paw (Count)</text>
<line x1="211.6" y1="175.8" x2="219.2" y2="175.8" stroke="#8dc540" stroke-width="1.7"/><circle cx="215.39999999999998" cy="175.8" r="1.75" fill="#8dc540"/>
<text x="221.6" y="178.9" font-size="6.6" fill="#1a1a1a">Back leg forward (Duration)</text>
</svg>
</body></html>
